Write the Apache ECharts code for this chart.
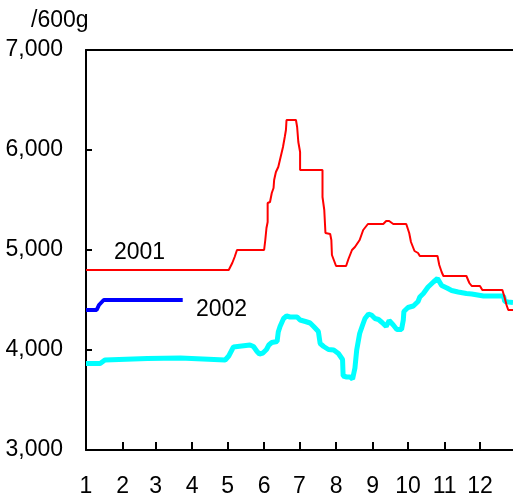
<!DOCTYPE html>
<html>
<head>
<meta charset="utf-8">
<script src="https://cdn.jsdelivr.net/npm/echarts@6/dist/echarts.min.js"></script>
<style>
html,body{margin:0;padding:0;background:#fff;}
#chart{width:513px;height:501px;}
</style>
</head>
<body>
<div id="chart"></div>
<script>
// x values are day-of-year offsets (0 = Jan 1)
var monthStarts = [0,31,59,90,120,151,181,212,243,273,304,334];
var monthLabels = ['1','2','3','4','5','6','7','8','9','10','11','12'];
var yTicks = [3000,4000,5000,6000,7000];

var series2001 = [[0,4800],[121,4800],[124,4870],[126,4930],[128,5000],[151,5000],[152,5100],[153,5220],[154,5280],[154,5470],[156,5480],[157.5,5570],[159,5620],[159.5,5700],[161,5780],[163,5830],[164.5,5840],[165,5930],[167,6030],[168.5,6130],[169.5,6200],[170,6300],[178,6300],[179,6230],[180,6080],[181.5,5980],[181.5,5800],[200.5,5800],[200.5,5530],[202,5400],[203,5170],[207,5160],[208,5100],[208.5,4950],[212,4840],[220.5,4840],[222.5,4910],[225.5,5000],[228,5030],[232,5100],[235,5200],[239,5260],[252,5260],[254.5,5290],[257,5290],[260.5,5260],[271.5,5260],[274,5170],[275.5,5080],[278.5,4990],[281.5,4970],[283,4940],[298,4940],[299.5,4850],[301.5,4780],[303,4740],[322.5,4740],[325,4670],[327,4640],[334,4640],[336,4600],[353,4600],[355,4520],[356.5,4450],[358,4400],[362,4400]];

var series2002 = [[0,4400],[9,4400],[11,4450],[15,4500],[82,4500]];

var seriesAvg = [[0,3865],[12,3865],[16,3900],[52,3915],[80,3920],[81,3900],[118,3900],[121,3940],[125,4030],[139,4050],[142,4035],[145,3985],[147,3960],[150,3970],[153,4005],[155,4050],[157.5,4075],[162,4085],[163,4180],[164.5,4235],[167.5,4315],[170,4340],[173,4330],[179,4330],[181.5,4300],[186,4285],[190,4270],[193,4235],[197,4185],[198.5,4065],[201.5,4035],[205.5,4005],[210,4000],[214,3965],[217.5,3905],[218,3740],[221,3730],[224,3730],[226,3710],[228,3820],[229.5,4000],[232,4165],[234.5,4250],[236.5,4315],[239.5,4360],[242,4350],[245,4315],[248,4305],[251,4275],[254.5,4235],[257,4295],[260.5,4250],[263.5,4205],[267.5,4205],[269,4300],[269.5,4385],[273,4425],[277.5,4440],[281.5,4485],[283,4530],[286,4565],[290,4630],[294.5,4680],[298,4715],[299.5,4710],[301.5,4645],[306,4620],[310,4595],[315.5,4580],[322.5,4565],[327,4560],[337,4540],[354,4540],[355,4485],[358,4480],[362,4475]];

var FONT = '"Liberation Sans", Arial, sans-serif';
var FS = 23;
var chart = echarts.init(document.getElementById('chart'), null, {renderer:'canvas'});
chart.setOption({
  animation:false,
  backgroundColor:'#fff',
  grid:{left:86, top:50, right:0, bottom:51, containLabel:false},
  xAxis:[{
    type:'value', min:0, max:362, position:'bottom',
    splitLine:{show:false},
    axisLine:{lineStyle:{color:'#000', width:2}},
    axisTick:{inside:true, length:8, lineStyle:{color:'#000', width:2}, customValues:monthStarts.slice(1)},
    axisLabel:{customValues:monthStarts, margin:25, color:'#000', fontSize:FS, fontFamily:FONT,
      formatter:function(v){var i=monthStarts.indexOf(v);return i>=0?monthLabels[i]:'';}}
  },{
    type:'value', min:0, max:362, position:'top',
    splitLine:{show:false}, axisTick:{show:false}, axisLabel:{show:false},
    axisLine:{lineStyle:{color:'#000', width:2}}
  }],
  yAxis:{
    type:'value', min:yTicks[0], max:yTicks[yTicks.length-1], interval:1000,
    splitLine:{show:false},
    axisLine:{show:true, lineStyle:{color:'#000', width:2}},
    axisTick:{show:true, inside:true, length:6, lineStyle:{color:'#000', width:2}},
    axisLabel:{margin:23, color:'#000', fontSize:FS, fontFamily:FONT,
      formatter:function(v){return v.toLocaleString('en-US');}}
  },
  graphic:[
    {type:'text', left:31, top:9, style:{text:'/600g', fontSize:FS, fontFamily:FONT, fill:'#000'}},
    {type:'text', left:114, top:241, style:{text:'2001', fontSize:FS, fontFamily:FONT, fill:'#000'}},
    {type:'text', left:196, top:298, style:{text:'2002', fontSize:FS, fontFamily:FONT, fill:'#000'}}
  ],
  series:[
    {name:'avg', type:'line', data:seriesAvg, showSymbol:false, lineStyle:{color:'#00ffff', width:5}, z:2},
    {name:'2002', type:'line', data:series2002, showSymbol:false, lineStyle:{color:'#0000ff', width:4}, z:3},
    {name:'2001', type:'line', data:series2001, showSymbol:false, lineStyle:{color:'#ff0000', width:2}, z:4}
  ]
});
</script>
</body>
</html>
